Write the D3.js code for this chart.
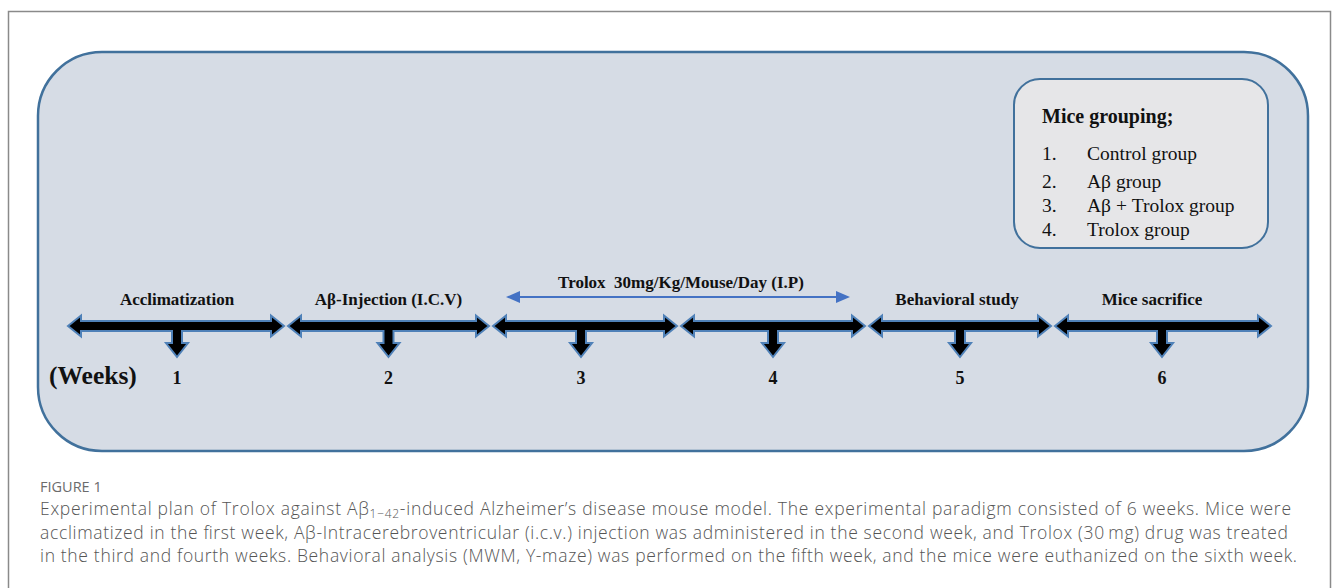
<!DOCTYPE html>
<html>
<head>
<meta charset="utf-8">
<script src="https://cdn.jsdelivr.net/npm/d3@7"></script>
<style>
  body { margin: 0; background: #fff; }
  svg { display: block; }
</style>
</head>
<body>
<svg id="fig" width="1335" height="588"></svg>
<script>
// timeline data
var weeks = [1, 2, 3, 4, 5, 6];
var phases = ["Acclimatization", "Aβ-Injection (I.C.V)", "", "", "Behavioral study", "Mice sacrifice"];
var treatStart = 3, treatEnd = 4;
var treatLabel = "Trolox  30mg/Kg/Mouse/Day (I.P)";
var groupTitle = "Mice grouping;";
var groupNums = ["1.", "2.", "3.", "4."];
var groupNames = ["Control group", "Aβ group", "Aβ + Trolox group", "Trolox group"];
var captionLines = [
  ["Experimental plan of Trolox against Aβ", "1−42", "-induced Alzheimer’s disease mouse model. The experimental paradigm consisted of 6 weeks. Mice were"],
  ["acclimatized in the first week, Aβ-Intracerebroventricular (i.c.v.) injection was administered in the second week, and Trolox (30\u2009mg) drug was treated"],
  ["in the third and fourth weeks. Behavioral analysis (MWM, Y-maze) was performed on the fifth week, and the mice were euthanized on the sixth week."]
];

var svg = d3.select("#fig");
var serif = "'Liberation Serif', 'Times New Roman', serif";

// outer frame
svg.append("rect").attr("x", 8.5).attr("y", 11.5).attr("width", 1322).attr("height", 600)
  .style("fill", "none").style("stroke", "#8a8a8a").style("stroke-width", 1.5);

// panel
svg.append("rect").attr("x", 38).attr("y", 52).attr("width", 1270).attr("height", 399)
  .attr("rx", 64).attr("ry", 64)
  .style("fill", "#d6dce5").style("stroke", "#41719c").style("stroke-width", 2.5);

// grouping box
var gb = svg.append("g");
gb.append("rect").attr("x", 1014).attr("y", 79).attr("width", 254).attr("height", 169)
  .attr("rx", 26).attr("ry", 26)
  .style("fill", "#e6e6e8").style("stroke", "#41719c").style("stroke-width", 2);
gb.append("text").attr("x", 1042).attr("y", 123).text(groupTitle)
  .style("font-family", serif).style("font-weight", "bold").style("font-size", "20px").style("fill", "#111");
var gyPos = [160, 188, 212, 236]; // uneven spacing as in the figure
gb.selectAll("text.num").data(groupNums).enter().append("text").attr("class", "num")
  .attr("x", 1042).attr("y", function(d, i){ return gyPos[i]; }).text(function(d){ return d; })
  .style("font-family", serif).style("font-size", "19.5px").style("fill", "#111");
gb.selectAll("text.name").data(groupNames).enter().append("text").attr("class", "name")
  .attr("x", 1087).attr("y", function(d, i){ return gyPos[i]; }).text(function(d){ return d; })
  .style("font-family", serif).style("font-size", "19.5px").style("fill", "#111");

// week scale: boundaries between weeks
var x = d3.scaleLinear()
  .domain([0.5, 1.5, 2.5, 3.5, 4.5, 5.5, 6.5])
  .range([68, 286, 491, 679, 867, 1053, 1271]);

var cy = 326, h = 5, H = 10.5, L = 13, s = 5, stemY = 343, dh = 11, tipY = 357;
function stemX(w){
  var cx = (x(w - 0.5) + x(w + 0.5)) / 2;
  return w == 3 ? cx - 4 : cx;
}
function blockArrow(w){
  var x0 = x(w - 0.5) + (w == 1 ? 0 : 2);
  var x1 = x(w + 0.5) - (w == 6 ? 0 : 2);
  var cx = stemX(w);
  var p = d3.path();
  p.moveTo(x0, cy);
  p.lineTo(x0 + L, cy - H); p.lineTo(x0 + L, cy - h);
  p.lineTo(x1 - L, cy - h); p.lineTo(x1 - L, cy - H);
  p.lineTo(x1, cy);
  p.lineTo(x1 - L, cy + H); p.lineTo(x1 - L, cy + h);
  p.lineTo(cx + s, cy + h); p.lineTo(cx + s, stemY); p.lineTo(cx + dh, stemY);
  p.lineTo(cx, tipY);
  p.lineTo(cx - dh, stemY); p.lineTo(cx - s, stemY); p.lineTo(cx - s, cy + h);
  p.lineTo(x0 + L, cy + h); p.lineTo(x0 + L, cy + H);
  p.closePath();
  return p.toString();
}

svg.selectAll("path.seg").data(weeks).enter().append("path").attr("class", "seg")
  .attr("d", blockArrow)
  .style("fill", "#000").style("stroke", "#4f81b8").style("stroke-width", 2).style("stroke-linejoin", "miter");

// week numbers
svg.selectAll("text.wk").data(weeks).enter().append("text").attr("class", "wk")
  .attr("x", function(d){ return stemX(d); }).attr("y", 384)
  .attr("text-anchor", "middle").text(function(d){ return d; })
  .style("font-family", serif).style("font-weight", "bold").style("font-size", "18px").style("fill", "#111");

svg.append("text").attr("x", 49).attr("y", 384).text("(Weeks)")
  .style("font-family", serif).style("font-weight", "bold").style("font-size", "25.5px").style("fill", "#111");

// phase labels
svg.selectAll("text.ph").data(phases).enter().append("text").attr("class", "ph")
  .attr("x", function(d, i){ return stemX(weeks[i]) + (i == 5 ? -10 : i == 4 ? -3 : 0); }).attr("y", 305)
  .attr("text-anchor", "middle").attr("xml:space", "preserve").text(function(d){ return d; })
  .style("font-family", serif).style("font-weight", "bold").style("font-size", "17px").style("fill", "#111");

// treatment span arrow
var tx0 = x(treatStart - 0.5) + 15, tx1 = x(treatEnd + 0.5) - 17, ty = 297;
var blue = "#4472c4";
svg.append("line").attr("x1", tx0 + 10).attr("x2", tx1 - 10).attr("y1", ty).attr("y2", ty)
  .style("stroke", blue).style("stroke-width", 2);
svg.append("path").attr("d", "M" + tx0 + "," + ty + "L" + (tx0 + 14) + "," + (ty - 6) + "L" + (tx0 + 14) + "," + (ty + 6) + "Z")
  .style("fill", blue);
svg.append("path").attr("d", "M" + tx1 + "," + ty + "L" + (tx1 - 14) + "," + (ty - 6) + "L" + (tx1 - 14) + "," + (ty + 6) + "Z")
  .style("fill", blue);
svg.append("text").attr("x", (x(treatStart) + x(treatEnd)) / 2 + 2).attr("y", 288)
  .attr("text-anchor", "middle").attr("xml:space", "preserve").text(treatLabel)
  .style("font-family", serif).style("font-weight", "bold").style("font-size", "17px").style("fill", "#111");

// caption
var sans = "'Open Sans', 'Noto Sans', sans-serif";
svg.append("text").attr("x", 40).attr("y", 492).text("FIGURE 1")
  .style("font-family", sans).style("font-size", "14.5px").style("font-weight", 500).style("fill", "#6b6b6b");
var capY = [515, 539, 562];
var capW = [1251, 1248, 1257];
captionLines.forEach(function(parts, i){
  var t = svg.append("text").attr("x", 40).attr("y", capY[i])
    .attr("textLength", capW[i]).attr("lengthAdjust", "spacing")
    .style("font-family", sans).style("font-size", "17.5px").style("font-weight", 300).style("fill", "#555");
  if (parts.length == 3){
    t.append("tspan").text(parts[0]);
    t.append("tspan").attr("dy", 3).style("font-size", "12px").text(parts[1]);
    t.append("tspan").attr("dy", -3).text(parts[2]);
  } else {
    t.text(parts[0]);
  }
});
</script>
</body>
</html>
